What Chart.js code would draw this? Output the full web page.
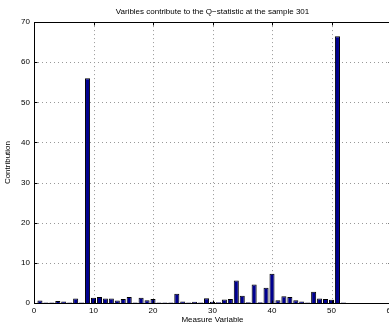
<!DOCTYPE html>
<html><head><meta charset="utf-8">
<script src="https://cdn.jsdelivr.net/npm/chart.js@4/dist/chart.umd.min.js"></script>
<style>
html,body{margin:0;padding:0;background:#fff;overflow:hidden;}
#wrap{position:relative;width:400px;height:325px;}
</style></head><body><div id="wrap"><canvas id="c"></canvas></div>
<script>
const variables = [1,2,3,4,5,6,7,8,9,10,11,12,13,14,15,16,17,18,19,20,21,22,23,24,25,26,27,28,29,30,31,32,33,34,35,36,37,38,39,40,41,42,43,44,45,46,47,48,49,50,51,52];
const contributions = [0.6,0.1,0.1,0.5,0.4,0.1,1.1,0.1,56,1.3,1.5,1.1,1.1,0.6,1.0,1.5,0.1,1.3,0.7,1.0,0.1,0.1,0.1,2.3,0.4,0.1,0.3,0.1,1.2,0.3,0.2,0.9,1.0,5.6,1.8,0.2,4.6,0.2,3.8,7.3,0.7,1.7,1.5,0.7,0.4,0.1,2.8,1.1,1.0,0.8,66.5,0.1];
const xTicks = [0,10,20,30,40,50,60];
const yTicks = [0,10,20,30,40,50,60,70];
const titleText = 'Varibles contribute to the Q\u2212statistic at the sample 301';
const xLabel = 'Measure Variable';
const yLabel = 'Contribution';

const FONT = 'Liberation Sans, Arial, Helvetica, sans-serif';

const matlabFrame = {
  id: 'matlabFrame',
  beforeDatasetsDraw(chart) {
    const {ctx, chartArea: a, scales: {x, y}} = chart;
    ctx.save();
    ctx.strokeStyle = '#999999';
    ctx.lineWidth = 1;
    ctx.setLineDash([1, 3]);
    xTicks.slice(1, -1).forEach(v => {
      const p = Math.round(x.getPixelForValue(v)) + 0.5;
      ctx.beginPath(); ctx.moveTo(p, a.top); ctx.lineTo(p, a.bottom); ctx.stroke();
    });
    yTicks.slice(1, -1).forEach(v => {
      const p = Math.round(y.getPixelForValue(v)) + 0.5;
      ctx.beginPath(); ctx.moveTo(a.left, p); ctx.lineTo(a.right, p); ctx.stroke();
    });
    ctx.restore();
  },
  afterDatasetsDraw(chart) {
    const {ctx, chartArea: a, scales: {x, y}} = chart;
    ctx.save();
    ctx.strokeStyle = '#000';
    ctx.lineWidth = 1;
    const L = Math.round(a.left) + 0.5, R = Math.round(a.right) + 0.5;
    const T = Math.round(a.top) + 0.5, B = Math.round(a.bottom) + 0.5;
    ctx.strokeRect(L, T, R - L, B - T);
    const tl = 3;
    ctx.beginPath();
    xTicks.forEach(v => {
      const p = Math.round(x.getPixelForValue(v)) + 0.5;
      ctx.moveTo(p, B); ctx.lineTo(p, B - tl);
      ctx.moveTo(p, T); ctx.lineTo(p, T + tl);
    });
    yTicks.forEach(v => {
      const p = Math.round(y.getPixelForValue(v)) + 0.5;
      ctx.moveTo(L, p); ctx.lineTo(L + tl, p);
      ctx.moveTo(R, p); ctx.lineTo(R - tl, p);
    });
    ctx.stroke();
    ctx.restore();
  }
};

new Chart(document.getElementById('c'), {
  type: 'bar',
  data: {
    datasets: [{
      data: variables.map((v, i) => ({x: v, y: contributions[i]})),
      backgroundColor: '#00008f',
      borderColor: '#000000',
      borderWidth: 1,
      barPercentage: 0.85,
      categoryPercentage: 1.0
    }]
  },
  options: {
    responsive: true,
    maintainAspectRatio: false,
    animation: false,
    devicePixelRatio: 1,
    layout: {padding: {left: 0, right: 9, top: 0, bottom: 0}},
    plugins: {
      legend: {display: false},
      tooltip: {enabled: false},
      title: {
        display: true,
        text: titleText,
        fullSize: false,
        color: '#000',
        font: {family: FONT, size: 8, weight: 'normal', lineHeight: 1.2},
        padding: {top: 7, bottom: 5.5}
      }
    },
    scales: {
      x: {
        type: 'linear',
        offset: false,
        min: 0, max: 60,
        afterBuildTicks: s => { s.ticks = xTicks.map(v => ({value: v})); },
        afterFit: s => { s.height = 22; },
        grid: {display: false, drawTicks: false, tickLength: 0, offset: false},
        border: {display: false},
        ticks: {color: '#000', font: {family: FONT, size: 8}, padding: 3, maxRotation: 0, autoSkip: false},
        title: {display: true, text: xLabel, color: '#000', font: {family: FONT, size: 8, lineHeight: 1.2}, padding: {top: 0, bottom: 0}}
      },
      y: {
        type: 'linear',
        min: 0, max: 70,
        afterBuildTicks: s => { s.ticks = yTicks.map(v => ({value: v})); },
        afterFit: s => { s.width = 34; },
        grid: {display: false, drawTicks: false, tickLength: 0},
        border: {display: false},
        ticks: {color: '#000', font: {family: FONT, size: 8}, padding: 4, autoSkip: false},
        title: {display: true, text: yLabel, color: '#000', font: {family: FONT, size: 8, lineHeight: 1.2}, padding: {top: 3, bottom: 0}}
      }
    }
  },
  plugins: [matlabFrame]
});
</script></body></html>
